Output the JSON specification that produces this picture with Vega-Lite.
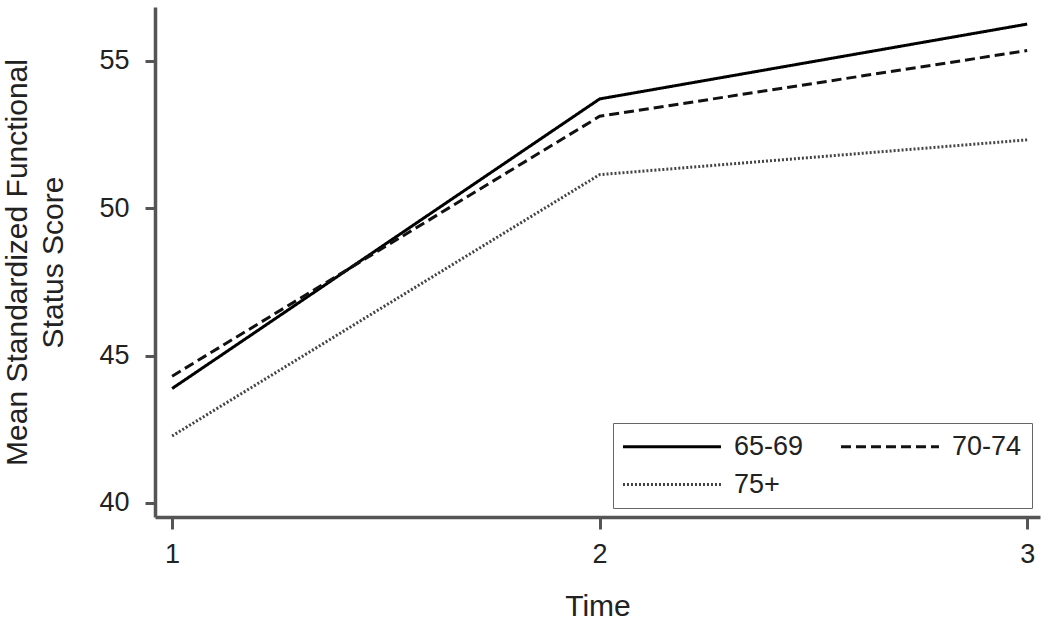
{
  "$schema": "https://vega.github.io/schema/vega-lite/v6.json",
  "width": 885,
  "height": 510,
  "autosize": "none",
  "padding": {"left": 155, "top": 7, "right": 10, "bottom": 107},
  "background": "white",
  "data": {
    "values": [
      {"group": "65-69", "time": 1, "score": 43.88},
      {"group": "65-69", "time": 2, "score": 53.71},
      {"group": "65-69", "time": 3, "score": 56.25},
      {"group": "70-74", "time": 1, "score": 44.3},
      {"group": "70-74", "time": 2, "score": 53.12},
      {"group": "70-74", "time": 3, "score": 55.35},
      {"group": "75+", "time": 1, "score": 42.27},
      {"group": "75+", "time": 2, "score": 51.14},
      {"group": "75+", "time": 3, "score": 52.32}
    ]
  },
  "mark": {"type": "line"},
  "encoding": {
    "x": {
      "field": "time",
      "type": "quantitative",
      "scale": {"domain": [0.96, 3.03], "nice": false, "zero": false},
      "axis": {
        "values": [1, 2, 3],
        "tickCount": 10,
        "tickMinStep": 0.1,
        "labelExpr": "format(datum.value, 'd')",
        "title": "Time",
        "tickSize": 12,
        "labelPadding": 12,
        "labelOverlap": false,
        "titlePadding": 24
      }
    },
    "y": {
      "field": "score",
      "type": "quantitative",
      "scale": {"domain": [39.52, 56.83], "nice": false, "zero": false},
      "axis": {
        "values": [40, 45, 50, 55],
        "tickCount": 10,
        "title": ["Mean Standardized Functional", "Status Score"],
        "tickSize": 10,
        "labelPadding": 16,
        "labelOverlap": false,
        "titlePadding": 30
      }
    },
    "color": {
      "field": "group",
      "type": "nominal",
      "scale": {"domain": ["65-69", "70-74", "75+"], "range": ["#000000", "#111111", "#444444"]},
      "legend": {"orient": "none", "legendX": 458, "legendY": 416, "direction": "horizontal", "columns": 2, "title": null}
    },
    "strokeDash": {
      "field": "group",
      "type": "nominal",
      "scale": {"domain": ["65-69", "70-74", "75+"], "range": [[1, 0], [10, 5], [2, 2]]},
      "legend": {"orient": "none", "legendX": 458, "legendY": 416, "direction": "horizontal", "columns": 2, "title": null}
    },
    "strokeWidth": {
      "field": "group",
      "type": "nominal",
      "scale": {"domain": ["65-69", "70-74", "75+"], "range": [3, 3, 2]},
      "legend": null
    }
  },
  "config": {
    "view": {"stroke": null},
    "font": "Liberation Sans",
    "axis": {
      "grid": false,
      "domainColor": "#555555",
      "domainWidth": 3.5,
      "tickColor": "#555555",
      "tickWidth": 3,
      "labelFont": "Liberation Sans",
      "labelFontSize": 27,
      "labelColor": "#222222",
      "titleFont": "Liberation Sans",
      "titleFontSize": 30,
      "titleFontWeight": "normal",
      "titleColor": "#222222",
      "titleLineHeight": 36
    },
    "legend": {
      "symbolType": "M-1.38,0H8.62",
      "symbolSize": 384,
      "symbolStrokeWidth": 3,
      "labelOffset": 84,
      "columnPadding": 30,
      "rowPadding": 10,
      "padding": 10,
      "strokeColor": "#666666",
      "labelFont": "Liberation Sans",
      "labelFontSize": 27,
      "labelColor": "#222222",
      "symbolOpacity": 1
    }
  }
}
